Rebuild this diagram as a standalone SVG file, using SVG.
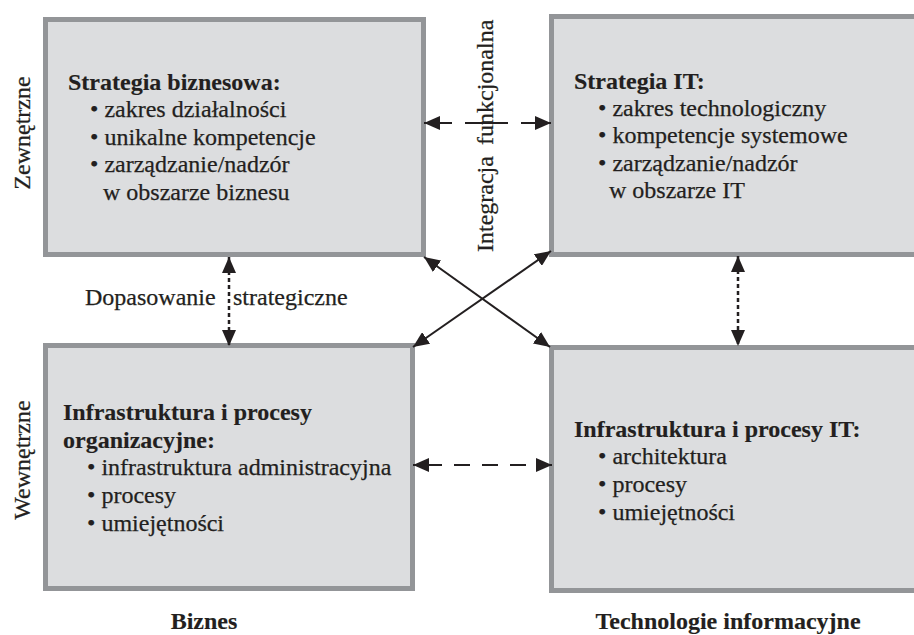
<svg xmlns="http://www.w3.org/2000/svg" width="914" height="635" viewBox="0 0 914 635">
<style>
.box{fill:#dcdddf;stroke:#939598;stroke-width:5}
text{font-family:"Liberation Serif","Times New Roman",serif;font-size:24px;fill:#231f20;stroke:#231f20;stroke-width:0.25}
.b{font-weight:bold;stroke-width:0.15}
.ln{stroke:#231f20;stroke-width:2;fill:none}
.dot{stroke:#231f20;stroke-width:2.5;fill:none;stroke-dasharray:4 3}
</style>
<defs>
<marker id="ah" markerUnits="userSpaceOnUse" markerWidth="16" markerHeight="14" viewBox="0 0 16 14" refX="16" refY="7" orient="auto-start-reverse">
<path d="M0,0 L16,7 L0,14 z" fill="#231f20"/>
</marker>
</defs>
<rect width="914" height="635" fill="#ffffff"/>

<g id="node-strategia-biznesowa">
<rect class="box" x="45.5" y="19.5" width="378" height="235"/>
<text class="b" x="68" y="90">Strategia biznesowa:</text>
<text x="90" y="117">• zakres działalności</text>
<text x="90" y="145">• unikalne kompetencje</text>
<text x="90" y="172">• zarządzanie/nadzór</text>
<text x="103" y="200">w obszarze biznesu</text>
</g>

<g id="node-strategia-it">
<rect class="box" x="551.5" y="16.5" width="400" height="238"/>
<text class="b" x="574" y="89">Strategia IT:</text>
<text x="598" y="115.5">• zakres technologiczny</text>
<text x="598" y="143">• kompetencje systemowe</text>
<text x="598" y="170.5">• zarządzanie/nadzór</text>
<text x="609" y="198">w obszarze IT</text>
</g>

<g id="node-infrastruktura-organizacyjna">
<rect class="box" x="45.5" y="345.5" width="367" height="243"/>
<text class="b" x="63" y="420">Infrastruktura i procesy</text>
<text class="b" x="63" y="448">organizacyjne:</text>
<text x="87" y="475">• infrastruktura administracyjna</text>
<text x="87" y="503">• procesy</text>
<text x="87" y="531">• umiejętności</text>
</g>

<g id="node-infrastruktura-it">
<rect class="box" x="551.5" y="347.5" width="400" height="243"/>
<text class="b" x="574" y="437">Infrastruktura i procesy IT:</text>
<text x="598" y="464">• architektura</text>
<text x="598" y="492">• procesy</text>
<text x="598" y="519.5">• umiejętności</text>
</g>

<g id="connectors">
<line class="ln" x1="424" y1="123" x2="551" y2="123" stroke-dasharray="28 13 43 13 40" marker-start="url(#ah)" marker-end="url(#ah)"/>
<line class="ln" x1="413" y1="465" x2="552" y2="465" stroke-dasharray="29 12 16 12 16 12 16 10 16" marker-start="url(#ah)" marker-end="url(#ah)"/>
<line class="dot" x1="229" y1="257" x2="229" y2="346" marker-start="url(#ah)" marker-end="url(#ah)"/>
<line class="dot" x1="738" y1="256" x2="738" y2="346" marker-start="url(#ah)" marker-end="url(#ah)"/>
<line class="ln" x1="424" y1="257" x2="550" y2="347" marker-start="url(#ah)" marker-end="url(#ah)"/>
<line class="ln" x1="413" y1="347" x2="551" y2="251" marker-start="url(#ah)" marker-end="url(#ah)"/>
</g>

<g id="labels">
<text transform="translate(30,133) rotate(-90)" text-anchor="middle">Zewnętrzne</text>
<text transform="translate(30,460) rotate(-90)" text-anchor="middle">Wewnętrzne</text>
<text transform="rotate(-90)" x="-252" y="493">Integracja<tspan x="-145">funkcjonalna</tspan></text>
<text x="85" y="305">Dopasowanie<tspan x="233">strategiczne</tspan></text>
<text class="b" x="204" y="629" text-anchor="middle">Biznes</text>
<text class="b" x="728" y="629" text-anchor="middle">Technologie informacyjne</text>
</g>
</svg>
